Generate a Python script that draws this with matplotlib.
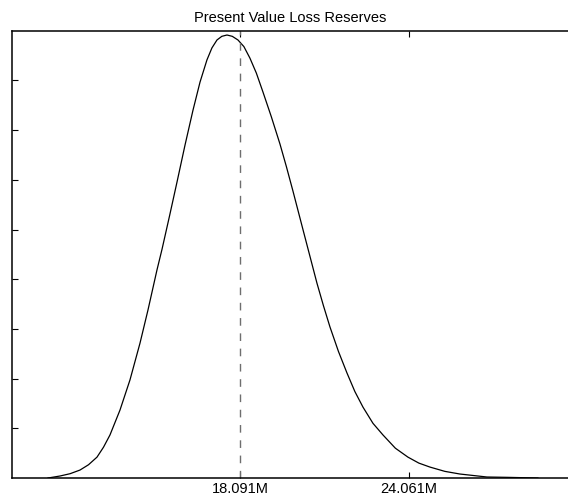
import matplotlib
matplotlib.use("Agg")
import matplotlib.pyplot as plt

# curve (x in $M, y = density)
reserve_m = [11.309, 11.733, 12.09, 12.439, 12.74, 13.040, 13.27, 13.499,
             13.852, 14.205, 14.559, 14.841, 15.159, 15.336, 15.6, 15.866,
             16.15, 16.431, 16.68, 16.925, 17.10, 17.279, 17.45, 17.632,
             17.82, 18.020, 18.23, 18.444, 18.67, 18.903, 19.2, 19.504,
             19.73, 19.963, 20.316, 20.811, 21.04, 21.270, 21.57, 21.871,
             22.15, 22.436, 22.79, 23.142, 23.58, 24.025, 24.41, 24.802,
             25.33, 25.862, 26.816, 27.522, 28.617]
density = [0.0, 0.0006, 0.0013, 0.0024, 0.0040, 0.0063, 0.0093, 0.0130,
           0.0205, 0.0296, 0.0407, 0.0507, 0.0628, 0.0690, 0.0790, 0.0893,
           0.1005, 0.1110, 0.1195, 0.1262, 0.1298, 0.1322, 0.1333, 0.1337,
           0.1333, 0.1322, 0.1302, 0.1267, 0.1222, 0.1165, 0.1090, 0.1008,
           0.0940, 0.0866, 0.0750, 0.0588, 0.0520, 0.0456, 0.0382, 0.0317,
           0.0261, 0.0214, 0.0165, 0.0130, 0.0090, 0.0063, 0.0045, 0.0033,
           0.0020, 0.0012, 0.0003, 0.0002, 0.0]

mean_m = 18.091
x_ticks = [18.091, 24.061]
x_tick_labels = ["18.091M", "24.061M"]
y_ticks = [0.015, 0.030, 0.045, 0.060, 0.075, 0.090, 0.105, 0.120]

plt.rcParams['font.family'] = ['Liberation Sans', 'DejaVu Sans']

fig = plt.figure(figsize=(5.68, 4.97), dpi=100)
ax = fig.add_axes([12 / 568, 1 - 478 / 497, 1 - 12 / 568, 447.3 / 497])

ax.plot(reserve_m, density, color="black", linewidth=0.9,
        solid_joinstyle="round")
ax.axvline(mean_m, color="#6e6e6e", linewidth=1.0, linestyle=(0, (5.5, 5.5)))

ax.set_xlim(10.037, 29.68)
ax.set_ylim(0, 0.135)
ax.set_xticks(x_ticks)
ax.set_xticklabels(x_tick_labels, fontsize=10.5)
ax.set_yticks(y_ticks)
ax.set_yticklabels([])
ax.tick_params(axis="x", direction="in", length=4, width=0.8, top=True, pad=3)
ax.tick_params(axis="y", direction="in", length=4.5, width=0.8)

ax.spines["right"].set_visible(False)
for s in ["top", "bottom", "left"]:
    ax.spines[s].set_linewidth(1.1)

ax.set_title("Present Value Loss Reserves", fontsize=10.5, pad=6)

fig.savefig("out.png", dpi=100)
